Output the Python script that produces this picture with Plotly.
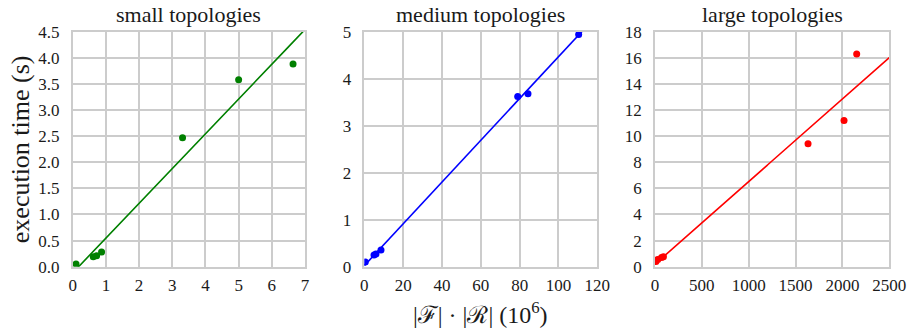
import numpy as np
import plotly.graph_objects as go

# Problem size |F|·|R| (in millions) and measured execution time (s)
small_size = [0.10, 0.62, 0.72, 0.87, 3.31, 5.00, 6.64]
small_time = [0.05, 0.19, 0.21, 0.28, 2.47, 3.58, 3.88]

medium_size = [0.5, 5.0, 6.0, 8.6, 79.0, 84.3, 110.4]
medium_time = [0.10, 0.25, 0.27, 0.355, 3.62, 3.68, 4.94]

large_size = [10, 30, 70, 90, 1633, 2017, 2152]
large_time = [0.40, 0.55, 0.70, 0.77, 9.42, 11.2, 16.3]

titles = ["small topologies", "medium topologies", "large topologies"]
colors = ["#008000", "#0000ff", "#ff0000"]
x_ranges = [[0, 7], [0, 120], [0, 2500]]
y_ranges = [[0, 4.5], [0, 5], [0, 18]]
x_dticks = [1, 20, 500]
y_dticks = [0.5, 1, 2]
y_formats = [".1f", "d", "d"]

W, H = 911, 333
x_domains = [[72.7 / W, 305.0 / W], [364.3 / W, 597.3 / W], [655.0 / W, 889.3 / W]]
y_domain = [1 - 266.7 / H, 1 - 31.7 / H]

FONT = "Liberation Serif"
TEXT = "#1a1a1a"
GRID = "#cccccc"

series = [(small_size, small_time), (medium_size, medium_time), (large_size, large_time)]

fig = go.Figure()
for i, (xs, ys) in enumerate(series):
    suffix = "" if i == 0 else str(i + 1)
    xa, ya = "x" + suffix, "y" + suffix
    # least-squares linear fit drawn across the full x-axis range
    slope, intercept = np.polyfit(xs, ys, 1)
    xl = np.linspace(x_ranges[i][0], x_ranges[i][1], 200)
    fig.add_trace(go.Scatter(x=xl, y=slope * xl + intercept, mode="lines",
                             line=dict(color=colors[i], width=1.6),
                             xaxis=xa, yaxis=ya, showlegend=False, hoverinfo="skip"))
    fig.add_trace(go.Scatter(x=xs, y=ys, mode="markers",
                             marker=dict(color=colors[i], size=7, line=dict(width=0)),
                             xaxis=xa, yaxis=ya, showlegend=False))

    axis_common = dict(showgrid=True, gridcolor=GRID, gridwidth=1.5,
                       showline=True, linecolor=GRID, linewidth=1.5, mirror=True,
                       zeroline=False, automargin=False,
                       ticks="outside", tickcolor="rgba(0,0,0,0)",
                       tickfont=dict(family=FONT, size=17, color=TEXT))
    fig.layout["xaxis" + suffix] = dict(domain=x_domains[i], range=x_ranges[i],
                                        dtick=x_dticks[i], tick0=0, anchor=ya,
                                        ticklen=2, **axis_common)
    fig.layout["yaxis" + suffix] = dict(domain=y_domain, range=y_ranges[i],
                                        dtick=y_dticks[i], tick0=0, anchor=xa,
                                        tickformat=y_formats[i], ticklen=8,
                                        **axis_common)
    fig.add_annotation(text=titles[i], xref="paper", yref="paper",
                       x=sum(x_domains[i]) / 2, y=1 - 14 / H,
                       xanchor="center", yanchor="middle", showarrow=False,
                       font=dict(family=FONT, size=22, color=TEXT))

fig.add_annotation(text="execution time (s)", xref="paper", yref="paper",
                   x=20 / W, y=sum(y_domain) / 2, textangle=-90,
                   xanchor="center", yanchor="middle", showarrow=False,
                   font=dict(family=FONT, size=26, color=TEXT))
fig.add_annotation(text="|ℱ| · |ℛ| (10<sup>6</sup>)", xref="paper", yref="paper",
                   x=sum(x_domains[1]) / 2, y=1 - 313 / H,
                   xanchor="center", yanchor="middle", showarrow=False,
                   font=dict(family=FONT, size=24, color=TEXT))

fig.update_layout(width=W, height=H, margin=dict(l=0, r=0, t=0, b=0),
                  plot_bgcolor="white", paper_bgcolor="white")

fig.write_html("out.html")
